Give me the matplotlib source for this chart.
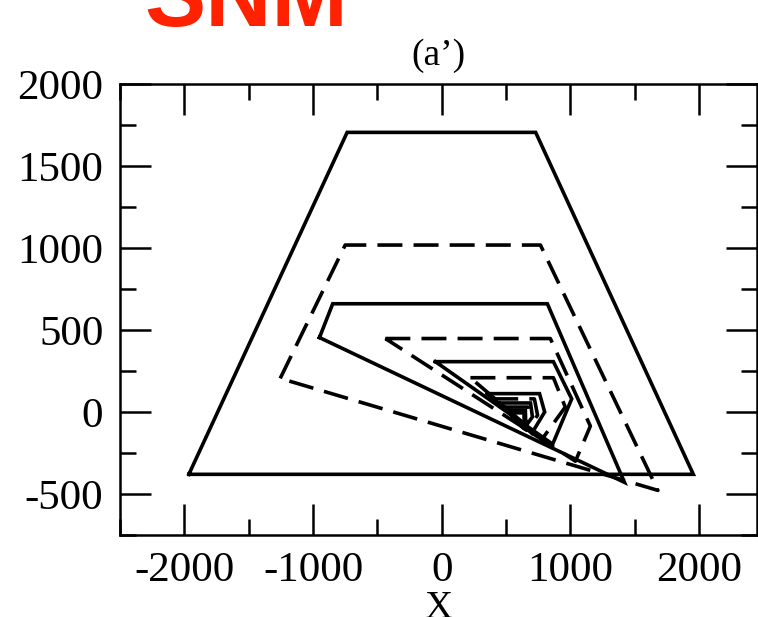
import numpy as np
import matplotlib.pyplot as plt
from matplotlib.ticker import MultipleLocator

plt.rcParams['font.family'] = ['Liberation Serif', 'DejaVu Serif']
plt.rcParams['axes.unicode_minus'] = False
plt.rcParams['lines.scale_dashes'] = False

# nested loops, outer to inner: x / y corners (each loop is closed)
loop_x = [
    [-1965, -735, 730, 1955],
    [-1255, -750, 767, 1680],
    [-950, -847, 821, 1420],
    [-438, 844, 1155, 1039],
    [-49, 868, 1010, 862],
    [223, 868, 960, 780],
    [355, 760, 800, 700],
    [400, 720, 745, 660],
    [450, 690, 705, 640],
    [490, 670, 672, 630],
    [520, 650, 652, 625],
    [545, 640, 640, 620],
]
loop_y = [
    [-380, 1705, 1705, -380],
    [205, 1018, 1018, -478],
    [454, 660, 660, -429],
    [448, 448, -86, -300],
    [307, 307, 80, -196],
    [209, 209, 30, -165],
    [112, 112, 0, -130],
    [80, 80, -20, -112],
    [55, 55, -30, -100],
    [30, 30, -42, -95],
    [10, 10, -52, -90],
    [-5, -5, -55, -85],
]
# solid / dashed alternate
loop_style = ['solid', 'dashed'] * 6

fig = plt.figure(figsize=(7.58, 6.17), dpi=100)
ax = fig.add_axes([120/758, 82/617, 637/758, 451/617])

for xs, ys, st in zip(loop_x, loop_y, loop_style):
    xs = xs + xs[:1]
    ys = ys + ys[:1]
    line, = ax.plot(xs, ys, color='black', lw=2.6, solid_joinstyle='miter')
    if st == 'dashed':
        line.set_dashes((18, 8))

ax.set_xlim(-2500, 2450)
ax.set_ylim(-750, 2000)
ax.xaxis.set_major_locator(MultipleLocator(1000))
ax.xaxis.set_minor_locator(MultipleLocator(500))
ax.yaxis.set_major_locator(MultipleLocator(500))
ax.yaxis.set_minor_locator(MultipleLocator(250))
ax.tick_params(which='both', direction='in', top=True, right=True,
               width=1.8, labelsize=31)
ax.tick_params(which='major', length=22, pad=12)
ax.tick_params(which='minor', length=11.5)
for s in ax.spines.values():
    s.set_linewidth(1.8)

ax.set_xlabel('X', fontsize=28, labelpad=0)
ax.set_ylabel('Y', fontsize=28, labelpad=2)
ax.yaxis.set_label_coords(-0.19, 0.5)
ax.set_title("(a\u2019)", fontsize=27, pad=14)

fig.text(246/758, 1 - 26/617, 'SNM', color='#ff2200', fontsize=66,
         fontweight='bold', family=['Liberation Sans', 'DejaVu Sans'],
         ha='center', va='baseline')

fig.savefig('out.png', dpi=100)
